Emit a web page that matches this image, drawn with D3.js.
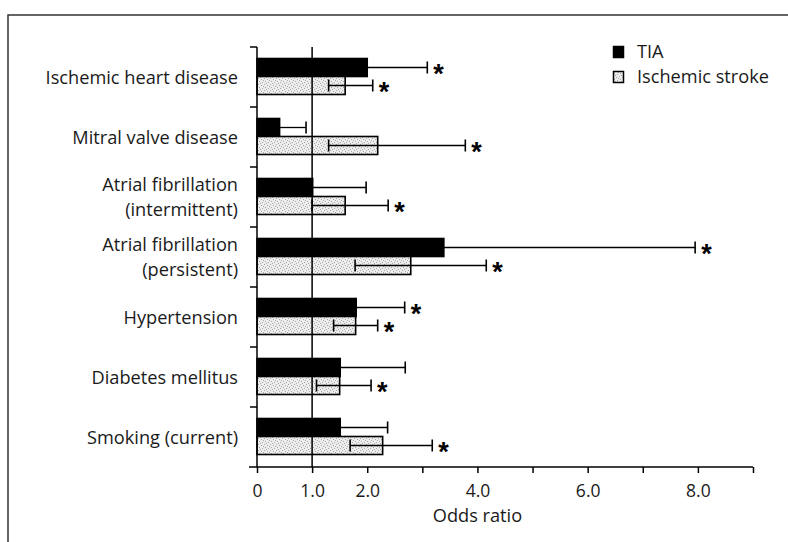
<!DOCTYPE html>
<html>
<head>
<meta charset="utf-8">
<script src="https://cdn.jsdelivr.net/npm/d3@7"></script>
<style>
  body { margin: 0; background: #fff; }
  svg { display: block; }
</style>
</head>
<body>
<svg id="chart" width="788" height="542"></svg>
<script>
const categories = [
  "Ischemic heart disease",
  "Mitral valve disease",
  "Atrial fibrillation\n(intermittent)",
  "Atrial fibrillation\n(persistent)",
  "Hypertension",
  "Diabetes mellitus",
  "Smoking (current)",
];
const seriesNames = ["TIA", "Ischemic stroke"];

// odds ratios
const tiaOR = [2.0, 0.41, 1.01, 3.39, 1.8, 1.51, 1.51];
const tiaUpper = [3.09, 0.89, 1.98, 7.95, 2.68, 2.69, 2.37];
const tiaSig = [true, false, false, true, true, false, false];

const strokeOR = [1.6, 2.19, 1.6, 2.79, 1.79, 1.5, 2.28];
const strokeLower = [1.3, 1.3, 1.0, 1.78, 1.39, 1.08, 1.69];
const strokeUpper = [2.1, 3.78, 2.38, 4.16, 2.19, 2.07, 3.18];
const strokeSig = [true, true, true, true, true, true, true];

const tickValues = [0, 1, 2, 3, 4, 5, 6, 7, 8, 9];
const tickLabels = { 0: "0", 1: "1.0", 2: "2.0", 4: "4.0", 6: "6.0", 8: "8.0" };

const FONT = "'Open Sans', 'Noto Sans', sans-serif";
const INK = "#1a1a1a";
const FS = 18.2;

const svg = d3.select("#chart");

// stippled fill for the stroke bars
const defs = svg.append("defs");
const pat = defs
  .append("pattern")
  .attr("id", "stipple")
  .attr("patternUnits", "userSpaceOnUse")
  .attr("width", 6)
  .attr("height", 6);
pat.append("rect").attr("width", 6).attr("height", 6).attr("fill", "#ededed");
[[0, 0], [3, 1], [1, 3], [4, 4], [5, 2], [2, 5]].forEach(([px, py]) => {
  pat.append("rect").attr("x", px).attr("y", py).attr("width", 1).attr("height", 1).attr("fill", "#a8a8a8");
});

// frame around the figure (runs off the right and bottom edges)
svg
  .append("rect")
  .attr("x", 8)
  .attr("y", 15)
  .attr("width", 820)
  .attr("height", 600)
  .attr("fill", "none")
  .attr("stroke", "#333")
  .attr("stroke-width", 1.5);

const x = d3.scaleLinear().domain([0, 9]).range([257, 753]);
const y = d3.scaleBand().domain(categories).range([47, 467]);
const inner = d3.scaleBand().domain(seriesNames).range([11.5, 47.5]);
const barH = inner.bandwidth();

const rows = categories.map((c, i) => ({
  cat: c,
  tia: { or: tiaOR[i], lo: null, hi: tiaUpper[i], sig: tiaSig[i], s: seriesNames[0] },
  stroke: { or: strokeOR[i], lo: strokeLower[i], hi: strokeUpper[i], sig: strokeSig[i], s: seriesNames[1] },
}));
const marks = rows.flatMap((r) => [
  Object.assign({ cat: r.cat }, r.tia),
  Object.assign({ cat: r.cat }, r.stroke),
]);

const plot = svg.append("g").attr("class", "plot-area");

// bars
plot
  .selectAll(".bar")
  .data(marks)
  .join("rect")
  .attr("class", "bar")
  .attr("x", x(0))
  .attr("y", (d) => y(d.cat) + inner(d.s))
  .attr("width", (d) => x(d.or) - x(0))
  .attr("height", barH)
  .attr("fill", (d) => (d.s === seriesNames[0] ? "#000" : "url(#stipple)"))
  .attr("stroke", "#000")
  .attr("stroke-width", 1.6);

// reference line at OR = 1
plot
  .append("line")
  .attr("x1", x(1))
  .attr("x2", x(1))
  .attr("y1", y.range()[0])
  .attr("y2", y.range()[1])
  .attr("stroke", "#000")
  .attr("stroke-width", 1.5);

// error bars (TIA lower limit is hidden inside the black bar)
const eb = plot
  .selectAll(".err")
  .data(marks)
  .join("g")
  .attr("class", "err")
  .attr("transform", (d) => `translate(0,${y(d.cat) + inner(d.s) + barH / 2})`);

eb.append("line")
  .attr("x1", (d) => x(d.lo == null ? d.or : d.lo))
  .attr("x2", (d) => x(d.hi))
  .attr("stroke", "#000")
  .attr("stroke-width", 1.3);

eb.append("line")
  .attr("x1", (d) => x(d.hi))
  .attr("x2", (d) => x(d.hi))
  .attr("y1", -6)
  .attr("y2", 6)
  .attr("stroke", "#000")
  .attr("stroke-width", 1.6);

eb.filter((d) => d.lo != null)
  .append("line")
  .attr("x1", (d) => x(d.lo))
  .attr("x2", (d) => x(d.lo))
  .attr("y1", -6)
  .attr("y2", 6)
  .attr("stroke", "#000")
  .attr("stroke-width", 1.6);

eb.filter((d) => d.sig)
  .append("text")
  .attr("x", (d) => x(d.hi) + 6)
  .attr("y", 15)
  .attr("font-family", "'Liberation Sans', sans-serif")
  .attr("font-weight", "bold")
  .attr("font-size", 27)
  .attr("fill", "#000")
  .text("*");

// y axis
const yAxis = plot.append("g").attr("class", "y-axis");
yAxis
  .append("line")
  .attr("x1", x(0))
  .attr("x2", x(0))
  .attr("y1", y.range()[0])
  .attr("y2", y.range()[1])
  .attr("stroke", "#000")
  .attr("stroke-width", 1.5);
yAxis
  .selectAll(".ytick")
  .data(categories)
  .join("line")
  .attr("class", "ytick")
  .attr("x1", x(0) - 7)
  .attr("x2", x(0))
  .attr("y1", (d) => y(d))
  .attr("y2", (d) => y(d))
  .attr("stroke", "#000")
  .attr("stroke-width", 1.5);

// category labels
plot
  .selectAll(".cat-label")
  .data(rows)
  .join("text")
  .attr("class", "cat-label")
  .attr("text-anchor", "end")
  .attr("font-family", FONT)
  .attr("font-size", FS)
  .attr("fill", INK)
  .each(function (d) {
    const lines = d.cat.split("\n");
    const cy = y(d.cat) + 29.5;
    d3.select(this)
      .selectAll("tspan")
      .data(lines)
      .join("tspan")
      .attr("x", 238)
      .attr("y", (l, k) => cy + 7 + (k - (lines.length - 1) / 2) * 25)
      .text((l) => l);
  });

// x axis
const xAxis = plot
  .append("g")
  .attr("class", "x-axis")
  .attr("transform", `translate(0,${y.range()[1]})`)
  .call(
    d3
      .axisBottom(x)
      .tickValues(tickValues)
      .tickSize(6)
      .tickFormat((d) => tickLabels[d] || "")
  );
xAxis.select(".domain").remove();
xAxis
  .append("line")
  .attr("x1", 249)
  .attr("x2", x(9))
  .attr("stroke", "#000")
  .attr("stroke-width", 1.5);
xAxis.selectAll(".tick line").attr("stroke", "#000").attr("stroke-width", 1.5);
xAxis
  .selectAll(".tick text")
  .attr("font-family", FONT)
  .attr("font-size", 17.5)
  .attr("fill", INK)
  .attr("y", 29.5)
  .attr("dy", 0);

svg
  .append("text")
  .attr("x", x(4))
  .attr("y", 522)
  .attr("text-anchor", "middle")
  .attr("font-family", FONT)
  .attr("font-size", FS)
  .attr("fill", INK)
  .text("Odds ratio");

// legend
const legend = svg
  .append("g")
  .attr("class", "legend")
  .attr("transform", "translate(613,46)");
legend
  .selectAll("rect")
  .data(seriesNames)
  .join("rect")
  .attr("x", 0.5)
  .attr("y", (d, i) => i * 25 + 0.5)
  .attr("width", 10)
  .attr("height", 11)
  .attr("fill", (d, i) => (i === 0 ? "#000" : "url(#stipple)"))
  .attr("stroke", "#000")
  .attr("stroke-width", 1.5);
legend
  .selectAll("text")
  .data(seriesNames)
  .join("text")
  .attr("x", 24)
  .attr("y", (d, i) => i * 25 + 12)
  .attr("font-family", FONT)
  .attr("font-size", FS)
  .attr("fill", INK)
  .text((d) => d);
</script>
</body>
</html>
